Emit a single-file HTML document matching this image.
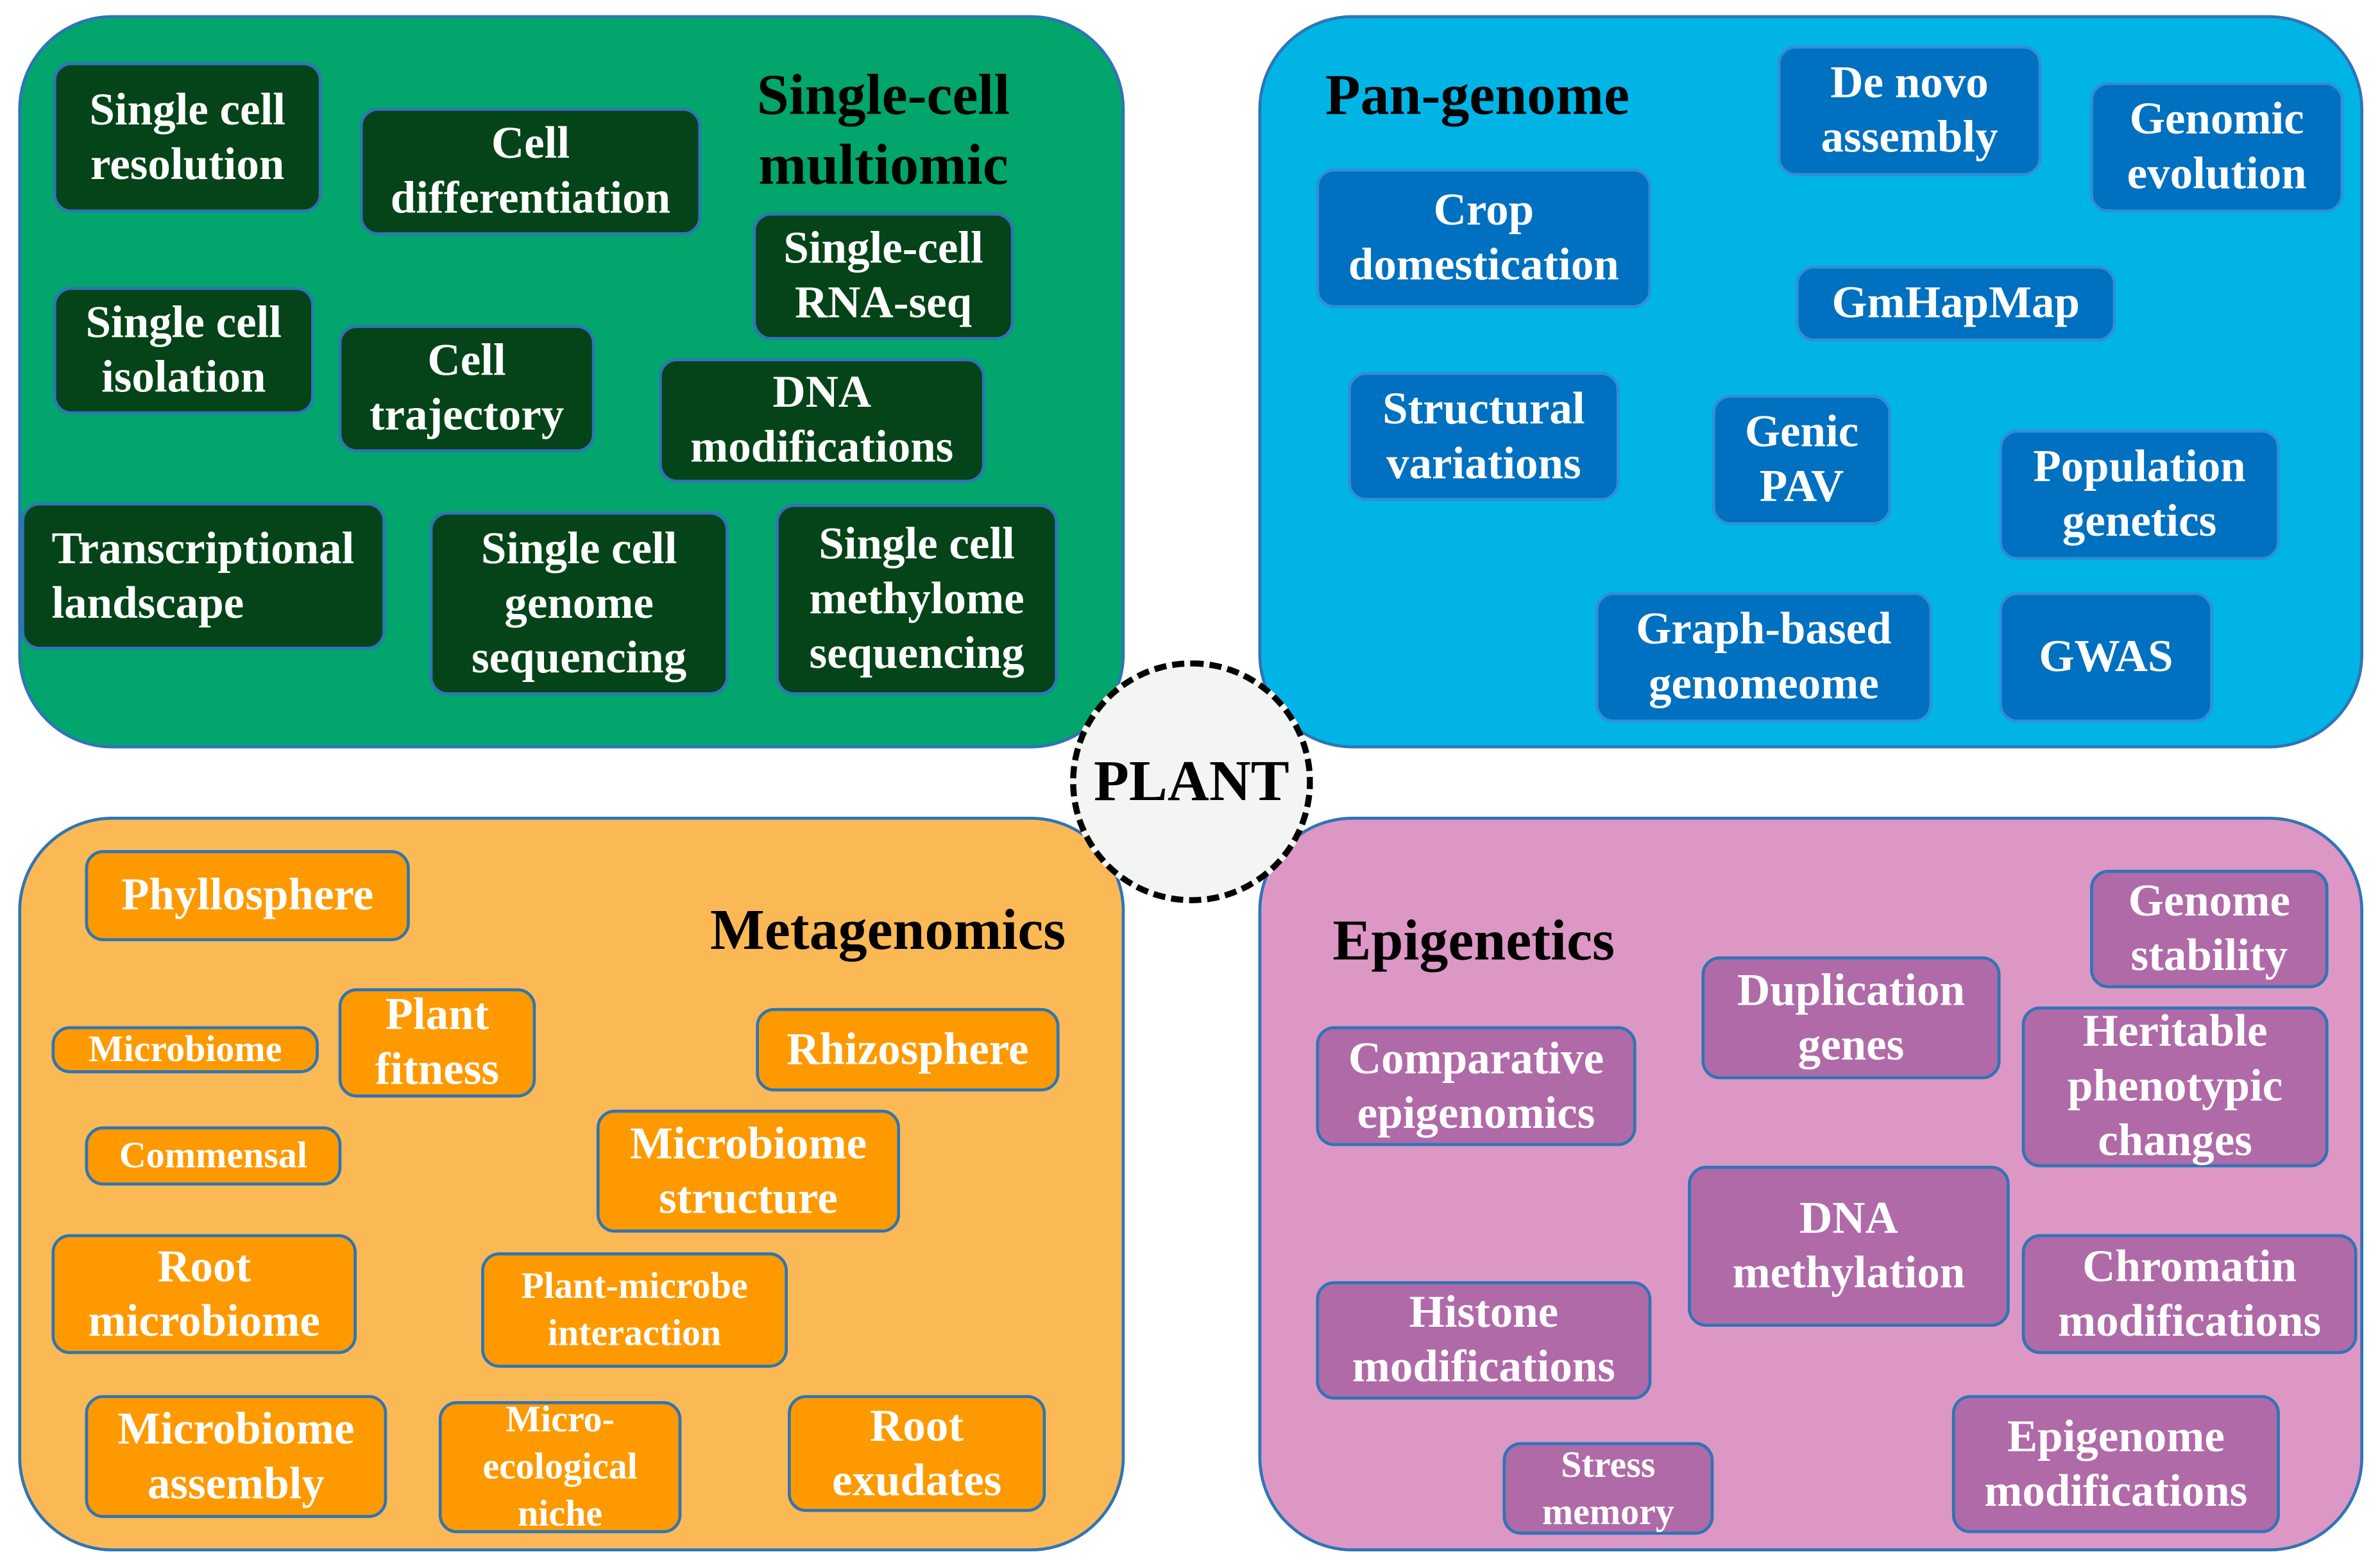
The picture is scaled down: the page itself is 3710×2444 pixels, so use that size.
<!DOCTYPE html>
<html><head><meta charset="utf-8"><style>
html,body{margin:0;padding:0;background:#fff;width:3710px;height:2444px;overflow:hidden}
#w{position:absolute;left:0;top:0;width:1568px;height:1033px;transform:scale(2.3661);transform-origin:0 0;font-family:"Liberation Serif",serif;font-weight:bold}
.q{position:absolute;border:2px solid #2e75b6;border-radius:62px;box-sizing:border-box}
.b{position:absolute;box-sizing:border-box;border:2px solid #2e75b6;border-radius:12px;color:#fff;font-size:30px;line-height:36px;display:flex;align-items:center;justify-content:center;text-align:center;white-space:nowrap}
.g{background:#044418}
.u{background:#0070c0;border-color:#2f8fd8}
.o{background:#ff9900}
.p{background:#b06aa8}
.s{font-size:24.5px;line-height:31px}
.t{position:absolute;font-size:38px;line-height:46px;color:#000;text-align:center;white-space:nowrap}
</style></head><body><div id="w">
<div class="q" style="left:12px;top:10px;width:729px;height:483px;background:#02a56b"></div>
<div class="q" style="left:829px;top:10px;width:728px;height:483px;background:#00b5e6"></div>
<div class="q" style="left:12px;top:538px;width:729px;height:484px;background:#fbb955"></div>
<div class="q" style="left:829px;top:538px;width:728px;height:484px;background:#dd97c4"></div>
<div style="position:absolute;left:705px;top:435px;width:160px;height:160px;border-radius:50%;border:4px dashed #000;background:#f2f5f2;box-sizing:border-box;display:flex;align-items:center;justify-content:center;font-size:38px">PLANT</div>

<div class="t" style="left:462px;top:40px;width:240px">Single-cell<br>multiomic</div>
<div class="b g" style="left:35px;top:41px;width:177px;height:99px">Single cell<br>resolution</div>
<div class="b g" style="left:237px;top:71px;width:225px;height:84px">Cell<br>differentiation</div>
<div class="b g" style="left:496px;top:140px;width:172px;height:84px">Single-cell<br>RNA-seq</div>
<div class="b g" style="left:35px;top:189px;width:172px;height:84px">Single cell<br>isolation</div>
<div class="b g" style="left:223px;top:214px;width:169px;height:84px">Cell<br>trajectory</div>
<div class="b g" style="left:434px;top:236px;width:215px;height:82px">DNA<br>modifications</div>
<div class="b g" style="left:14px;top:331px;width:240px;height:97px;justify-content:flex-start;text-align:left;padding-left:18px">Transcriptional<br>landscape</div>
<div class="b g" style="left:283px;top:337px;width:197px;height:121px">Single cell<br>genome<br>sequencing</div>
<div class="b g" style="left:511px;top:332px;width:186px;height:126px">Single cell<br>methylome<br>sequencing</div>

<div class="t" style="left:873px;top:40px;text-align:left">Pan-genome</div>
<div class="b u" style="left:1171px;top:30px;width:174px;height:86px">De novo<br>assembly</div>
<div class="b u" style="left:1377px;top:54px;width:167px;height:86px">Genomic<br>evolution</div>
<div class="b u" style="left:867px;top:111px;width:221px;height:92px">Crop<br>domestication</div>
<div class="b u" style="left:1183px;top:175px;width:211px;height:50px">GmHapMap</div>
<div class="b u" style="left:888px;top:245px;width:179px;height:85px">Structural<br>variations</div>
<div class="b u" style="left:1128px;top:260px;width:118px;height:86px">Genic<br>PAV</div>
<div class="b u" style="left:1317px;top:283px;width:185px;height:86px">Population<br>genetics</div>
<div class="b u" style="left:1051px;top:390px;width:222px;height:86px">Graph-based<br>genomeome</div>
<div class="b u" style="left:1317px;top:390px;width:141px;height:86px">GWAS</div>

<div class="t" style="left:455px;top:590px;width:260px">Metagenomics</div>
<div class="b o" style="left:56px;top:560px;width:214px;height:60px">Phyllosphere</div>
<div class="b o s" style="left:34px;top:676px;width:176px;height:31px">Microbiome</div>
<div class="b o" style="left:223px;top:651px;width:130px;height:72px">Plant<br>fitness</div>
<div class="b o" style="left:498px;top:664px;width:200px;height:55px">Rhizosphere</div>
<div class="b o s" style="left:56px;top:742px;width:169px;height:39px">Commensal</div>
<div class="b o" style="left:393px;top:731px;width:200px;height:81px">Microbiome<br>structure</div>
<div class="b o" style="left:34px;top:813px;width:201px;height:79px">Root<br>microbiome</div>
<div class="b o s" style="left:317px;top:825px;width:202px;height:76px">Plant-microbe<br>interaction</div>
<div class="b o" style="left:56px;top:919px;width:199px;height:81px">Microbiome<br>assembly</div>
<div class="b o s" style="left:289px;top:923px;width:160px;height:87px">Micro-<br>ecological<br>niche</div>
<div class="b o" style="left:519px;top:919px;width:170px;height:77px">Root<br>exudates</div>

<div class="t" style="left:878px;top:597px;text-align:left">Epigenetics</div>
<div class="b p" style="left:1377px;top:573px;width:157px;height:78px">Genome<br>stability</div>
<div class="b p" style="left:1121px;top:630px;width:197px;height:81px">Duplication<br>genes</div>
<div class="b p" style="left:1332px;top:663px;width:202px;height:106px">Heritable<br>phenotypic<br>changes</div>
<div class="b p" style="left:867px;top:676px;width:211px;height:79px">Comparative<br>epigenomics</div>
<div class="b p" style="left:1112px;top:768px;width:212px;height:106px">DNA<br>methylation</div>
<div class="b p" style="left:1332px;top:813px;width:221px;height:79px">Chromatin<br>modifications</div>
<div class="b p" style="left:867px;top:844px;width:221px;height:78px">Histone<br>modifications</div>
<div class="b p s" style="left:990px;top:950px;width:139px;height:61px">Stress<br>memory</div>
<div class="b p" style="left:1286px;top:919px;width:216px;height:91px">Epigenome<br>modifications</div>
</div></body></html>
